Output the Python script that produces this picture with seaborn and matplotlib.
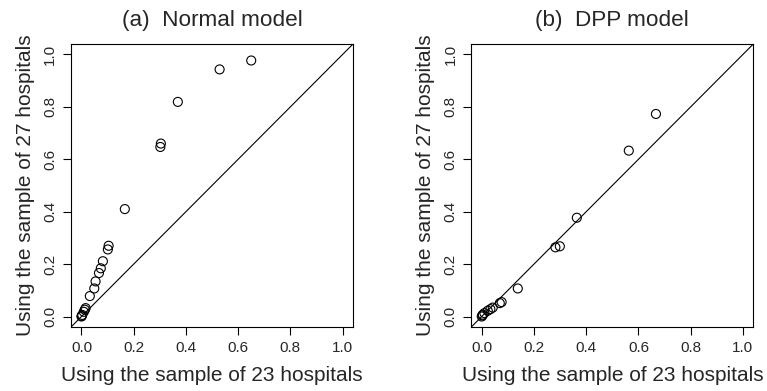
import matplotlib
matplotlib.use("Agg")
import matplotlib.pyplot as plt
import seaborn as sns
import pandas as pd

# Panel (a): Normal model
normal_x23 = [0.650, 0.529, 0.369, 0.304, 0.302, 0.166, 0.104, 0.101, 0.082, 0.074,
              0.067, 0.054, 0.049, 0.032, 0.016, 0.013, 0.009, 0.003, 0.001, 0.000]
normal_y27 = [0.977, 0.943, 0.819, 0.660, 0.647, 0.410, 0.270, 0.256, 0.211, 0.184,
              0.166, 0.134, 0.107, 0.078, 0.032, 0.026, 0.018, 0.006, 0.002, 0.000]

# Panel (b): DPP model
dpp_x23 = [0.667, 0.563, 0.364, 0.299, 0.282, 0.138, 0.076, 0.069, 0.042, 0.033,
           0.023, 0.010, 0.004, 0.002, 0.000]
dpp_y27 = [0.773, 0.633, 0.377, 0.268, 0.264, 0.107, 0.055, 0.051, 0.034, 0.028,
           0.022, 0.013, 0.007, 0.004, 0.000]

titles = ["(a)  Normal model", "(b)  DPP model"]
xlabel = "Using the sample of 23 hospitals"
ylabel = "Using the sample of 27 hospitals"
ticks = [0.0, 0.2, 0.4, 0.6, 0.8, 1.0]
tick_labels = ["0.0", "0.2", "0.4", "0.6", "0.8", "1.0"]

sns.set_style("white")
plt.rcParams['font.family'] = ['Liberation Sans', 'DejaVu Sans']

fig = plt.figure(figsize=(7.67, 3.91), dpi=100)
ax_a = fig.add_axes([0.0926, 0.1637, 0.3677, 0.7238])
ax_b = fig.add_axes([0.6145, 0.1637, 0.3677, 0.7238])

panels = [(ax_a, normal_x23, normal_y27, titles[0]),
          (ax_b, dpp_x23, dpp_y27, titles[1])]

for ax, xs, ys, title in panels:
    df = pd.DataFrame({"x": xs, "y": ys})
    sns.scatterplot(data=df, x="x", y="y", ax=ax, marker="o", s=42,
                    facecolor="none", edgecolor="black", linewidth=0.8, zorder=3)
    ax.axline((0, 0), slope=1, color="black", linewidth=0.8)
    ax.set_xlim(-0.04, 1.04)
    ax.set_ylim(-0.04, 1.04)
    ax.set_xticks(ticks)
    ax.set_xticklabels(tick_labels, fontsize=11)
    ax.set_yticks(ticks)
    ax.set_yticklabels(tick_labels, fontsize=11, rotation=90, va="center")
    ax.tick_params(direction="out", length=6, width=0.8, color="black",
                   left=True, bottom=True, pad=4)
    for sp in ax.spines.values():
        sp.set_visible(True)
        sp.set_color("black")
        sp.set_linewidth(0.8)
    ax.set_xlabel(xlabel, fontsize=15, labelpad=8)
    ax.set_ylabel(ylabel, fontsize=15, labelpad=6)
    ax.set_title(title, fontsize=16.2, pad=13)

fig.savefig("out.png", dpi=100)
